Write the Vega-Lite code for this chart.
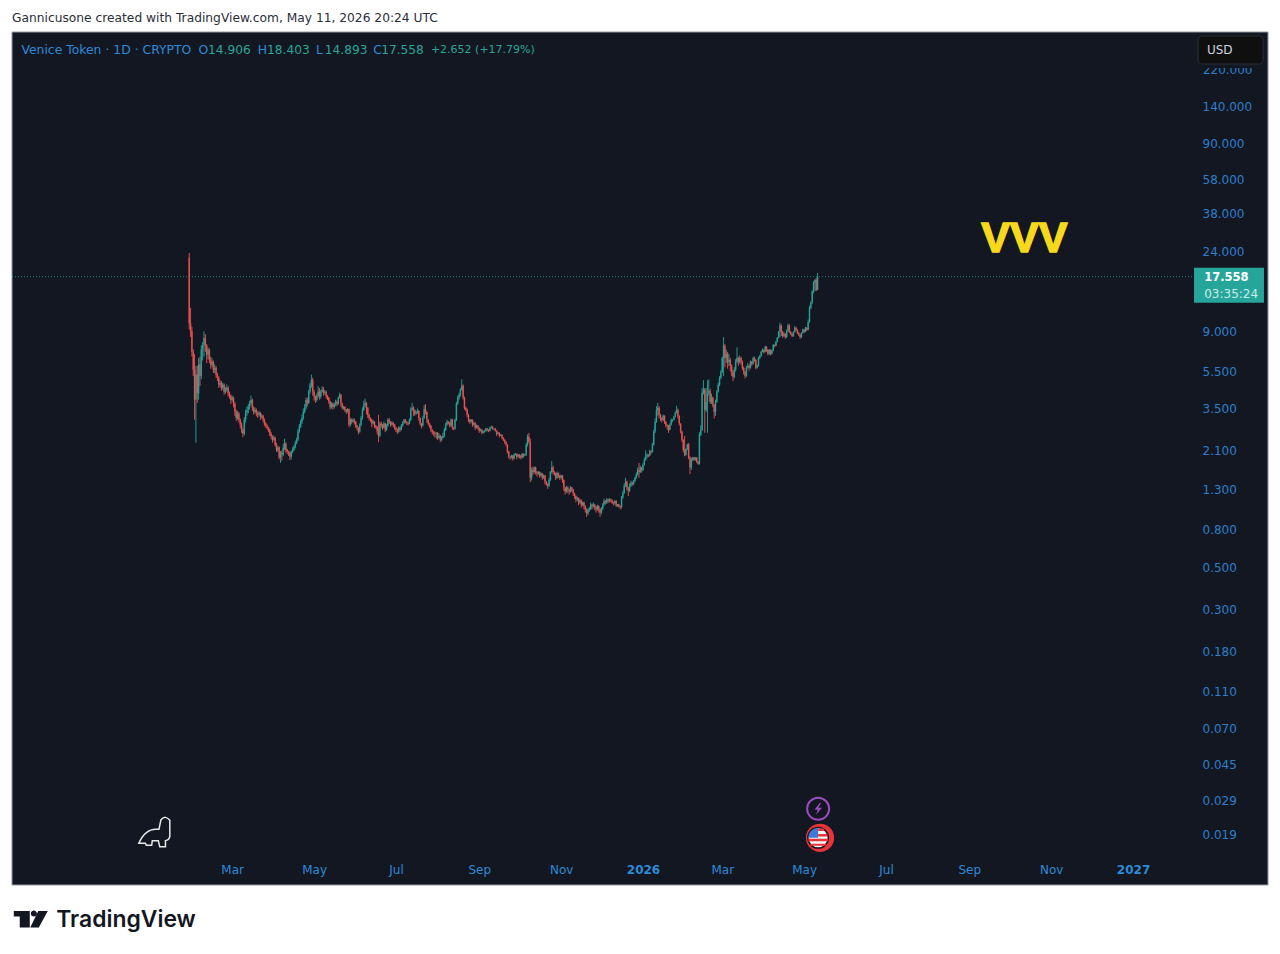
{
"$schema":"https://vega.github.io/schema/vega-lite/v6.json",
"width":1256,"height":853,
"autosize":{"type":"none"},
"padding":{"left":12,"top":32,"right":12,"bottom":69},
"background":"#ffffff",
"view":{"stroke":null},
"config":{"font":"DejaVu Sans"},
"title":{"text":"Gannicusone created with TradingView.com, May 11, 2026 20:24 UTC","anchor":"start","frame":"group","fontSize":12.25,"fontWeight":"normal","color":"#2a2e39","offset":7},
"resolve":{"axis":{"x":"independent","y":"independent"}},
"layer":[
{"data":{"values":[{}]},
"mark":{"type":"rect","color":"#131722","stroke":"#9598a1","strokeWidth":1},
"encoding":{"x":{"datum":{"year":2024,"month":9,"date":18,"utc":true},"type":"temporal","axis":null},"x2":{"datum":{"year":2027,"month":4,"date":11,"hours":12,"utc":true}},"y":{"datum":0.01029,"type":"quantitative","axis":null},"y2":{"datum":350.4}}},
{"data":{"values":[
{"d":"2025-01-28","o":22.2,"h":23.5,"l":9.2,"c":9.9},
{"d":"2025-01-29","o":9.9,"h":12,"l":8.4,"c":9},
{"d":"2025-01-30","o":9,"h":9.5,"l":6.6,"c":7},
{"d":"2025-01-31","o":7,"h":7.2,"l":5.2,"c":5.6},
{"d":"2025-02-01","o":5.6,"h":6.8,"l":3.05,"c":3.9},
{"d":"2025-02-02","o":3.9,"h":5.9,"l":2.3,"c":5.3},
{"d":"2025-02-03","o":5.3,"h":5.9,"l":3.75,"c":4.2},
{"d":"2025-02-04","o":4.2,"h":6.5,"l":3.9,"c":6},
{"d":"2025-02-05","o":6,"h":6.6,"l":4.6,"c":5.2},
{"d":"2025-02-06","o":5.2,"h":7.6,"l":5,"c":7.2},
{"d":"2025-02-07","o":7.2,"h":7.9,"l":6.3,"c":7.6},
{"d":"2025-02-08","o":7.6,"h":9,"l":6.6,"c":8.3},
{"d":"2025-02-09","o":8.3,"h":8.7,"l":7,"c":7.6},
{"d":"2025-02-10","o":7.6,"h":7.7,"l":6.1,"c":6.75},
{"d":"2025-02-11","o":6.75,"h":7.4,"l":6.4,"c":7.18},
{"d":"2025-02-12","o":7.18,"h":7.3,"l":6.1,"c":6.35},
{"d":"2025-02-13","o":6.35,"h":6.6,"l":5.7,"c":5.97},
{"d":"2025-02-14","o":5.97,"h":6.5,"l":5.8,"c":6.2},
{"d":"2025-02-15","o":6.2,"h":6.3,"l":5.4,"c":5.62},
{"d":"2025-02-16","o":5.62,"h":6,"l":5.4,"c":5.76},
{"d":"2025-02-17","o":5.76,"h":5.9,"l":5.1,"c":5.29},
{"d":"2025-02-18","o":5.29,"h":5.4,"l":4.9,"c":5.1},
{"d":"2025-02-19","o":5.1,"h":5.2,"l":4.5,"c":4.68},
{"d":"2025-02-20","o":4.68,"h":4.95,"l":4.55,"c":4.8},
{"d":"2025-02-21","o":4.8,"h":4.9,"l":4.35,"c":4.5},
{"d":"2025-02-22","o":4.5,"h":4.8,"l":4.4,"c":4.68},
{"d":"2025-02-23","o":4.68,"h":4.75,"l":4.15,"c":4.3},
{"d":"2025-02-24","o":4.3,"h":4.55,"l":4.2,"c":4.4},
{"d":"2025-02-25","o":4.4,"h":4.7,"l":4.3,"c":4.5},
{"d":"2025-02-26","o":4.5,"h":4.6,"l":4.05,"c":4.2},
{"d":"2025-02-27","o":4.2,"h":4.3,"l":3.95,"c":4.09},
{"d":"2025-02-28","o":4.09,"h":4.15,"l":3.7,"c":3.89},
{"d":"2025-03-01","o":3.89,"h":4.1,"l":3.8,"c":3.99},
{"d":"2025-03-02","o":3.99,"h":4.05,"l":3.55,"c":3.71},
{"d":"2025-03-03","o":3.71,"h":3.8,"l":3.2,"c":3.36},
{"d":"2025-03-04","o":3.36,"h":3.45,"l":3,"c":3.12},
{"d":"2025-03-05","o":3.12,"h":3.4,"l":3.05,"c":3.28},
{"d":"2025-03-06","o":3.28,"h":3.35,"l":2.95,"c":3.05},
{"d":"2025-03-07","o":3.05,"h":3.1,"l":2.75,"c":2.87},
{"d":"2025-03-08","o":2.87,"h":2.95,"l":2.6,"c":2.7},
{"d":"2025-03-09","o":2.7,"h":2.75,"l":2.46,"c":2.57},
{"d":"2025-03-10","o":2.57,"h":3.15,"l":2.52,"c":3.05},
{"d":"2025-03-11","o":3.05,"h":3.45,"l":2.95,"c":3.32},
{"d":"2025-03-12","o":3.32,"h":3.6,"l":3.2,"c":3.44},
{"d":"2025-03-13","o":3.44,"h":3.7,"l":3.3,"c":3.57},
{"d":"2025-03-14","o":3.57,"h":3.85,"l":3.45,"c":3.75},
{"d":"2025-03-15","o":3.75,"h":4.1,"l":3.65,"c":3.89},
{"d":"2025-03-16","o":3.89,"h":3.95,"l":3.4,"c":3.53},
{"d":"2025-03-17","o":3.53,"h":3.6,"l":3.25,"c":3.36},
{"d":"2025-03-18","o":3.36,"h":3.55,"l":3.3,"c":3.44},
{"d":"2025-03-19","o":3.44,"h":3.5,"l":3.18,"c":3.28},
{"d":"2025-03-20","o":3.28,"h":3.38,"l":3.12,"c":3.24},
{"d":"2025-03-21","o":3.24,"h":3.4,"l":3.18,"c":3.32},
{"d":"2025-03-22","o":3.32,"h":3.36,"l":3.05,"c":3.16},
{"d":"2025-03-23","o":3.16,"h":3.28,"l":3.1,"c":3.2},
{"d":"2025-03-24","o":3.2,"h":3.24,"l":2.96,"c":3.05},
{"d":"2025-03-25","o":3.05,"h":3.1,"l":2.83,"c":2.91},
{"d":"2025-03-26","o":2.91,"h":2.96,"l":2.76,"c":2.84},
{"d":"2025-03-27","o":2.84,"h":2.88,"l":2.7,"c":2.77},
{"d":"2025-03-28","o":2.77,"h":2.8,"l":2.62,"c":2.7},
{"d":"2025-03-29","o":2.7,"h":2.74,"l":2.5,"c":2.57},
{"d":"2025-03-30","o":2.57,"h":2.62,"l":2.4,"c":2.48},
{"d":"2025-03-31","o":2.48,"h":2.52,"l":2.3,"c":2.39},
{"d":"2025-04-01","o":2.39,"h":2.52,"l":2.36,"c":2.45},
{"d":"2025-04-02","o":2.45,"h":2.48,"l":2.2,"c":2.25},
{"d":"2025-04-03","o":2.25,"h":2.3,"l":2.06,"c":2.11},
{"d":"2025-04-04","o":2.11,"h":2.22,"l":2.05,"c":2.17},
{"d":"2025-04-05","o":2.17,"h":2.2,"l":1.88,"c":1.92},
{"d":"2025-04-06","o":1.92,"h":2.08,"l":1.8,"c":2.04},
{"d":"2025-04-07","o":2.04,"h":2.1,"l":1.85,"c":1.99},
{"d":"2025-04-08","o":1.99,"h":2.28,"l":1.95,"c":2.17},
{"d":"2025-04-09","o":2.17,"h":2.42,"l":2.1,"c":2.28},
{"d":"2025-04-10","o":2.28,"h":2.32,"l":2.04,"c":2.11},
{"d":"2025-04-11","o":2.11,"h":2.14,"l":2,"c":2.06},
{"d":"2025-04-12","o":2.06,"h":2.09,"l":1.96,"c":2.04},
{"d":"2025-04-13","o":2.04,"h":2.07,"l":1.86,"c":1.94},
{"d":"2025-04-14","o":1.94,"h":2.1,"l":1.88,"c":2.06},
{"d":"2025-04-15","o":2.06,"h":2.18,"l":2.02,"c":2.11},
{"d":"2025-04-16","o":2.11,"h":2.24,"l":2.08,"c":2.19},
{"d":"2025-04-17","o":2.19,"h":2.36,"l":2.15,"c":2.3},
{"d":"2025-04-18","o":2.3,"h":2.45,"l":2.26,"c":2.39},
{"d":"2025-04-19","o":2.39,"h":2.72,"l":2.35,"c":2.64},
{"d":"2025-04-20","o":2.64,"h":2.9,"l":2.6,"c":2.8},
{"d":"2025-04-21","o":2.8,"h":3.05,"l":2.76,"c":2.98},
{"d":"2025-04-22","o":2.98,"h":3.25,"l":2.9,"c":3.12},
{"d":"2025-04-23","o":3.12,"h":3.5,"l":3.05,"c":3.36},
{"d":"2025-04-24","o":3.36,"h":3.7,"l":3.3,"c":3.53},
{"d":"2025-04-25","o":3.53,"h":4,"l":3.45,"c":3.89},
{"d":"2025-04-26","o":3.89,"h":4,"l":3.6,"c":3.75},
{"d":"2025-04-27","o":3.75,"h":4.4,"l":3.7,"c":4.3},
{"d":"2025-04-28","o":4.3,"h":4.8,"l":4.2,"c":4.68},
{"d":"2025-04-29","o":4.68,"h":5.3,"l":4.5,"c":4.97},
{"d":"2025-04-30","o":4.97,"h":5.1,"l":4.1,"c":4.3},
{"d":"2025-05-01","o":4.3,"h":4.4,"l":3.85,"c":4.04},
{"d":"2025-05-02","o":4.04,"h":4.1,"l":3.75,"c":3.89},
{"d":"2025-05-03","o":3.89,"h":4.2,"l":3.8,"c":4.09},
{"d":"2025-05-04","o":4.09,"h":4.6,"l":4,"c":4.3},
{"d":"2025-05-05","o":4.3,"h":4.5,"l":3.9,"c":4.04},
{"d":"2025-05-06","o":4.04,"h":4.4,"l":3.95,"c":4.3},
{"d":"2025-05-07","o":4.3,"h":4.6,"l":4.25,"c":4.4},
{"d":"2025-05-08","o":4.4,"h":4.55,"l":4.1,"c":4.25},
{"d":"2025-05-09","o":4.25,"h":4.4,"l":4.15,"c":4.3},
{"d":"2025-05-10","o":4.3,"h":4.35,"l":3.95,"c":4.09},
{"d":"2025-05-11","o":4.09,"h":4.12,"l":3.88,"c":3.99},
{"d":"2025-05-12","o":3.99,"h":4.02,"l":3.7,"c":3.8},
{"d":"2025-05-13","o":3.8,"h":3.85,"l":3.46,"c":3.57},
{"d":"2025-05-14","o":3.57,"h":3.78,"l":3.5,"c":3.71},
{"d":"2025-05-15","o":3.71,"h":3.76,"l":3.45,"c":3.57},
{"d":"2025-05-16","o":3.57,"h":3.75,"l":3.5,"c":3.66},
{"d":"2025-05-17","o":3.66,"h":3.9,"l":3.6,"c":3.8},
{"d":"2025-05-18","o":3.8,"h":3.86,"l":3.6,"c":3.71},
{"d":"2025-05-19","o":3.71,"h":4.05,"l":3.66,"c":3.99},
{"d":"2025-05-20","o":3.99,"h":4.25,"l":3.95,"c":4.14},
{"d":"2025-05-21","o":4.14,"h":4.18,"l":3.58,"c":3.71},
{"d":"2025-05-22","o":3.71,"h":3.75,"l":3.45,"c":3.53},
{"d":"2025-05-23","o":3.53,"h":3.62,"l":3.45,"c":3.57},
{"d":"2025-05-24","o":3.57,"h":3.6,"l":3.35,"c":3.44},
{"d":"2025-05-25","o":3.44,"h":3.48,"l":3.27,"c":3.36},
{"d":"2025-05-26","o":3.36,"h":3.52,"l":3.32,"c":3.48},
{"d":"2025-05-27","o":3.48,"h":3.5,"l":2.78,"c":2.87},
{"d":"2025-05-28","o":2.87,"h":3.12,"l":2.82,"c":3.05},
{"d":"2025-05-29","o":3.05,"h":3.1,"l":2.9,"c":2.98},
{"d":"2025-05-30","o":2.98,"h":3.1,"l":2.94,"c":3.05},
{"d":"2025-05-31","o":3.05,"h":3.1,"l":2.88,"c":2.98},
{"d":"2025-06-01","o":2.98,"h":3,"l":2.76,"c":2.84},
{"d":"2025-06-02","o":2.84,"h":2.86,"l":2.68,"c":2.77},
{"d":"2025-06-03","o":2.77,"h":2.78,"l":2.55,"c":2.64},
{"d":"2025-06-04","o":2.64,"h":2.92,"l":2.6,"c":2.87},
{"d":"2025-06-05","o":2.87,"h":3.2,"l":2.82,"c":3.12},
{"d":"2025-06-06","o":3.12,"h":3.55,"l":3.05,"c":3.44},
{"d":"2025-06-07","o":3.44,"h":3.85,"l":3.4,"c":3.62},
{"d":"2025-06-08","o":3.62,"h":3.95,"l":3.55,"c":3.75},
{"d":"2025-06-09","o":3.75,"h":3.8,"l":3.25,"c":3.53},
{"d":"2025-06-10","o":3.53,"h":3.56,"l":3.12,"c":3.24},
{"d":"2025-06-11","o":3.24,"h":3.28,"l":3.02,"c":3.12},
{"d":"2025-06-12","o":3.12,"h":3.14,"l":2.96,"c":3.05},
{"d":"2025-06-13","o":3.05,"h":3.08,"l":2.78,"c":2.91},
{"d":"2025-06-14","o":2.91,"h":3.05,"l":2.88,"c":2.98},
{"d":"2025-06-15","o":2.98,"h":3,"l":2.76,"c":2.84},
{"d":"2025-06-16","o":2.84,"h":2.86,"l":2.72,"c":2.8},
{"d":"2025-06-17","o":2.8,"h":2.82,"l":2.55,"c":2.64},
{"d":"2025-06-18","o":2.64,"h":3.24,"l":2.32,"c":2.51},
{"d":"2025-06-19","o":2.51,"h":2.98,"l":2.46,"c":2.91},
{"d":"2025-06-20","o":2.91,"h":2.98,"l":2.76,"c":2.84},
{"d":"2025-06-21","o":2.84,"h":2.9,"l":2.7,"c":2.77},
{"d":"2025-06-22","o":2.77,"h":2.98,"l":2.74,"c":2.91},
{"d":"2025-06-23","o":2.91,"h":2.94,"l":2.62,"c":2.7},
{"d":"2025-06-24","o":2.7,"h":2.9,"l":2.66,"c":2.84},
{"d":"2025-06-25","o":2.84,"h":3.12,"l":2.8,"c":3.05},
{"d":"2025-06-26","o":3.05,"h":3.1,"l":2.9,"c":2.98},
{"d":"2025-06-27","o":2.98,"h":3,"l":2.8,"c":2.87},
{"d":"2025-06-28","o":2.87,"h":3,"l":2.84,"c":2.94},
{"d":"2025-06-29","o":2.94,"h":2.96,"l":2.78,"c":2.87},
{"d":"2025-06-30","o":2.87,"h":2.9,"l":2.7,"c":2.77},
{"d":"2025-07-01","o":2.77,"h":2.8,"l":2.62,"c":2.7},
{"d":"2025-07-02","o":2.7,"h":2.74,"l":2.56,"c":2.64},
{"d":"2025-07-03","o":2.64,"h":2.82,"l":2.6,"c":2.77},
{"d":"2025-07-04","o":2.77,"h":2.8,"l":2.62,"c":2.7},
{"d":"2025-07-05","o":2.7,"h":2.9,"l":2.68,"c":2.84},
{"d":"2025-07-06","o":2.84,"h":3,"l":2.8,"c":2.94},
{"d":"2025-07-07","o":2.94,"h":3.08,"l":2.9,"c":3.05},
{"d":"2025-07-08","o":3.05,"h":3.08,"l":2.92,"c":2.98},
{"d":"2025-07-09","o":2.98,"h":3,"l":2.86,"c":2.94},
{"d":"2025-07-10","o":2.94,"h":2.96,"l":2.84,"c":2.91},
{"d":"2025-07-11","o":2.91,"h":3.1,"l":2.88,"c":3.05},
{"d":"2025-07-12","o":3.05,"h":3.55,"l":3,"c":3.44},
{"d":"2025-07-13","o":3.44,"h":3.75,"l":3.4,"c":3.53},
{"d":"2025-07-14","o":3.53,"h":3.6,"l":3.2,"c":3.44},
{"d":"2025-07-15","o":3.44,"h":3.46,"l":3.2,"c":3.28},
{"d":"2025-07-16","o":3.28,"h":3.4,"l":3.24,"c":3.32},
{"d":"2025-07-17","o":3.32,"h":3.5,"l":3.28,"c":3.4},
{"d":"2025-07-18","o":3.4,"h":3.42,"l":3.02,"c":3.12},
{"d":"2025-07-19","o":3.12,"h":3.14,"l":2.84,"c":2.91},
{"d":"2025-07-20","o":2.91,"h":2.93,"l":2.74,"c":2.84},
{"d":"2025-07-21","o":2.84,"h":3.2,"l":2.8,"c":3.12},
{"d":"2025-07-22","o":3.12,"h":3.65,"l":3.08,"c":3.48},
{"d":"2025-07-23","o":3.48,"h":3.7,"l":3.25,"c":3.36},
{"d":"2025-07-24","o":3.36,"h":3.38,"l":2.94,"c":3.05},
{"d":"2025-07-25","o":3.05,"h":3.07,"l":2.84,"c":2.91},
{"d":"2025-07-26","o":2.91,"h":2.94,"l":2.76,"c":2.84},
{"d":"2025-07-27","o":2.84,"h":2.86,"l":2.62,"c":2.7},
{"d":"2025-07-28","o":2.7,"h":2.72,"l":2.55,"c":2.64},
{"d":"2025-07-29","o":2.64,"h":2.66,"l":2.5,"c":2.6},
{"d":"2025-07-30","o":2.6,"h":2.64,"l":2.46,"c":2.57},
{"d":"2025-07-31","o":2.57,"h":2.62,"l":2.42,"c":2.6},
{"d":"2025-08-01","o":2.6,"h":2.62,"l":2.38,"c":2.45},
{"d":"2025-08-02","o":2.45,"h":2.58,"l":2.42,"c":2.51},
{"d":"2025-08-03","o":2.51,"h":2.54,"l":2.32,"c":2.39},
{"d":"2025-08-04","o":2.39,"h":2.5,"l":2.34,"c":2.45},
{"d":"2025-08-05","o":2.45,"h":2.6,"l":2.42,"c":2.51},
{"d":"2025-08-06","o":2.51,"h":2.76,"l":2.46,"c":2.7},
{"d":"2025-08-07","o":2.7,"h":2.94,"l":2.66,"c":2.87},
{"d":"2025-08-08","o":2.87,"h":3.05,"l":2.84,"c":2.98},
{"d":"2025-08-09","o":2.98,"h":3,"l":2.88,"c":2.94},
{"d":"2025-08-10","o":2.94,"h":2.96,"l":2.78,"c":2.84},
{"d":"2025-08-11","o":2.84,"h":3.1,"l":2.8,"c":3.05},
{"d":"2025-08-12","o":3.05,"h":3.08,"l":2.7,"c":2.77},
{"d":"2025-08-13","o":2.77,"h":2.8,"l":2.68,"c":2.74},
{"d":"2025-08-14","o":2.74,"h":3.1,"l":2.7,"c":3.05},
{"d":"2025-08-15","o":3.05,"h":3.8,"l":3,"c":3.71},
{"d":"2025-08-16","o":3.71,"h":4.1,"l":3.66,"c":3.99},
{"d":"2025-08-17","o":3.99,"h":4.25,"l":3.9,"c":4.14},
{"d":"2025-08-18","o":4.14,"h":4.5,"l":4.05,"c":4.4},
{"d":"2025-08-19","o":4.4,"h":5,"l":4.35,"c":4.63},
{"d":"2025-08-20","o":4.63,"h":4.7,"l":3.9,"c":3.99},
{"d":"2025-08-21","o":3.99,"h":4.05,"l":3.45,"c":3.53},
{"d":"2025-08-22","o":3.53,"h":3.58,"l":3.38,"c":3.44},
{"d":"2025-08-23","o":3.44,"h":3.5,"l":3.15,"c":3.24},
{"d":"2025-08-24","o":3.24,"h":3.28,"l":2.96,"c":3.05},
{"d":"2025-08-25","o":3.05,"h":3.08,"l":2.9,"c":2.98},
{"d":"2025-08-26","o":2.98,"h":3.08,"l":2.94,"c":3.05},
{"d":"2025-08-27","o":3.05,"h":3.06,"l":2.8,"c":2.87},
{"d":"2025-08-28","o":2.87,"h":2.98,"l":2.84,"c":2.94},
{"d":"2025-08-29","o":2.94,"h":2.95,"l":2.7,"c":2.77},
{"d":"2025-08-30","o":2.77,"h":2.88,"l":2.74,"c":2.84},
{"d":"2025-08-31","o":2.84,"h":2.86,"l":2.7,"c":2.77},
{"d":"2025-09-01","o":2.77,"h":2.78,"l":2.6,"c":2.67},
{"d":"2025-09-02","o":2.67,"h":2.74,"l":2.64,"c":2.7},
{"d":"2025-09-03","o":2.7,"h":2.72,"l":2.55,"c":2.6},
{"d":"2025-09-04","o":2.6,"h":2.67,"l":2.58,"c":2.64},
{"d":"2025-09-05","o":2.64,"h":2.7,"l":2.6,"c":2.67},
{"d":"2025-09-06","o":2.67,"h":2.76,"l":2.64,"c":2.74},
{"d":"2025-09-07","o":2.74,"h":2.76,"l":2.65,"c":2.7},
{"d":"2025-09-08","o":2.7,"h":2.72,"l":2.62,"c":2.67},
{"d":"2025-09-09","o":2.67,"h":2.8,"l":2.64,"c":2.77},
{"d":"2025-09-10","o":2.77,"h":2.84,"l":2.74,"c":2.8},
{"d":"2025-09-11","o":2.8,"h":2.82,"l":2.7,"c":2.74},
{"d":"2025-09-12","o":2.74,"h":2.76,"l":2.68,"c":2.74},
{"d":"2025-09-13","o":2.74,"h":2.75,"l":2.64,"c":2.67},
{"d":"2025-09-14","o":2.67,"h":2.68,"l":2.5,"c":2.57},
{"d":"2025-09-15","o":2.57,"h":2.63,"l":2.55,"c":2.6},
{"d":"2025-09-16","o":2.6,"h":2.62,"l":2.46,"c":2.51},
{"d":"2025-09-17","o":2.51,"h":2.56,"l":2.5,"c":2.54},
{"d":"2025-09-18","o":2.54,"h":2.55,"l":2.4,"c":2.45},
{"d":"2025-09-19","o":2.45,"h":2.46,"l":2.35,"c":2.39},
{"d":"2025-09-20","o":2.39,"h":2.4,"l":2.27,"c":2.33},
{"d":"2025-09-21","o":2.33,"h":2.34,"l":2.2,"c":2.25},
{"d":"2025-09-22","o":2.25,"h":2.26,"l":2.02,"c":2.06},
{"d":"2025-09-23","o":2.06,"h":2.08,"l":1.9,"c":1.94},
{"d":"2025-09-24","o":1.94,"h":1.95,"l":1.87,"c":1.92},
{"d":"2025-09-25","o":1.92,"h":1.99,"l":1.9,"c":1.97},
{"d":"2025-09-26","o":1.97,"h":1.98,"l":1.85,"c":1.9},
{"d":"2025-09-27","o":1.9,"h":2.02,"l":1.88,"c":1.99},
{"d":"2025-09-28","o":1.99,"h":2.03,"l":1.97,"c":2.01},
{"d":"2025-09-29","o":2.01,"h":2.02,"l":1.88,"c":1.94},
{"d":"2025-09-30","o":1.94,"h":2.01,"l":1.92,"c":1.99},
{"d":"2025-10-01","o":1.99,"h":2,"l":1.9,"c":1.97},
{"d":"2025-10-02","o":1.97,"h":1.98,"l":1.88,"c":1.92},
{"d":"2025-10-03","o":1.92,"h":2.03,"l":1.9,"c":2.01},
{"d":"2025-10-04","o":2.01,"h":2.02,"l":1.92,"c":1.97},
{"d":"2025-10-05","o":1.97,"h":2.01,"l":1.95,"c":1.99},
{"d":"2025-10-06","o":1.99,"h":2.3,"l":1.96,"c":2.25},
{"d":"2025-10-07","o":2.25,"h":2.55,"l":2.2,"c":2.48},
{"d":"2025-10-08","o":2.48,"h":2.6,"l":2.3,"c":2.33},
{"d":"2025-10-09","o":2.33,"h":2.42,"l":1.42,"c":1.5},
{"d":"2025-10-10","o":1.5,"h":1.7,"l":1.45,"c":1.65},
{"d":"2025-10-11","o":1.65,"h":1.72,"l":1.55,"c":1.61},
{"d":"2025-10-12","o":1.61,"h":1.72,"l":1.58,"c":1.7},
{"d":"2025-10-13","o":1.7,"h":1.72,"l":1.56,"c":1.61},
{"d":"2025-10-14","o":1.61,"h":1.63,"l":1.52,"c":1.58},
{"d":"2025-10-15","o":1.58,"h":1.63,"l":1.55,"c":1.61},
{"d":"2025-10-16","o":1.61,"h":1.62,"l":1.5,"c":1.54},
{"d":"2025-10-17","o":1.54,"h":1.6,"l":1.52,"c":1.58},
{"d":"2025-10-18","o":1.58,"h":1.59,"l":1.46,"c":1.5},
{"d":"2025-10-19","o":1.5,"h":1.56,"l":1.48,"c":1.54},
{"d":"2025-10-20","o":1.54,"h":1.55,"l":1.38,"c":1.43},
{"d":"2025-10-21","o":1.43,"h":1.44,"l":1.36,"c":1.39},
{"d":"2025-10-22","o":1.39,"h":1.4,"l":1.31,"c":1.36},
{"d":"2025-10-23","o":1.36,"h":1.5,"l":1.34,"c":1.46},
{"d":"2025-10-24","o":1.46,"h":1.63,"l":1.44,"c":1.61},
{"d":"2025-10-25","o":1.61,"h":1.84,"l":1.58,"c":1.7},
{"d":"2025-10-26","o":1.7,"h":1.74,"l":1.56,"c":1.61},
{"d":"2025-10-27","o":1.61,"h":1.63,"l":1.54,"c":1.58},
{"d":"2025-10-28","o":1.58,"h":1.6,"l":1.46,"c":1.5},
{"d":"2025-10-29","o":1.5,"h":1.62,"l":1.48,"c":1.59},
{"d":"2025-10-30","o":1.59,"h":1.6,"l":1.5,"c":1.54},
{"d":"2025-10-31","o":1.54,"h":1.55,"l":1.46,"c":1.5},
{"d":"2025-11-01","o":1.5,"h":1.56,"l":1.48,"c":1.54},
{"d":"2025-11-02","o":1.54,"h":1.55,"l":1.41,"c":1.46},
{"d":"2025-11-03","o":1.46,"h":1.47,"l":1.28,"c":1.33},
{"d":"2025-11-04","o":1.33,"h":1.34,"l":1.22,"c":1.27},
{"d":"2025-11-05","o":1.27,"h":1.36,"l":1.25,"c":1.33},
{"d":"2025-11-06","o":1.33,"h":1.35,"l":1.24,"c":1.3},
{"d":"2025-11-07","o":1.3,"h":1.31,"l":1.22,"c":1.27},
{"d":"2025-11-08","o":1.27,"h":1.36,"l":1.25,"c":1.33},
{"d":"2025-11-09","o":1.33,"h":1.34,"l":1.26,"c":1.3},
{"d":"2025-11-10","o":1.3,"h":1.31,"l":1.2,"c":1.24},
{"d":"2025-11-11","o":1.24,"h":1.25,"l":1.16,"c":1.2},
{"d":"2025-11-12","o":1.2,"h":1.21,"l":1.11,"c":1.15},
{"d":"2025-11-13","o":1.15,"h":1.19,"l":1.13,"c":1.17},
{"d":"2025-11-14","o":1.17,"h":1.18,"l":1.07,"c":1.11},
{"d":"2025-11-15","o":1.11,"h":1.16,"l":1.09,"c":1.14},
{"d":"2025-11-16","o":1.14,"h":1.15,"l":1.04,"c":1.08},
{"d":"2025-11-17","o":1.08,"h":1.12,"l":1.06,"c":1.11},
{"d":"2025-11-18","o":1.11,"h":1.12,"l":1.02,"c":1.06},
{"d":"2025-11-19","o":1.06,"h":1.07,"l":0.98,"c":1.02},
{"d":"2025-11-20","o":1.02,"h":1.03,"l":0.93,"c":0.97},
{"d":"2025-11-21","o":0.97,"h":1.03,"l":0.95,"c":1.01},
{"d":"2025-11-22","o":1.01,"h":1.05,"l":0.99,"c":1.03},
{"d":"2025-11-23","o":1.03,"h":1.11,"l":1.01,"c":1.08},
{"d":"2025-11-24","o":1.08,"h":1.09,"l":1.02,"c":1.06},
{"d":"2025-11-25","o":1.06,"h":1.11,"l":1.04,"c":1.08},
{"d":"2025-11-26","o":1.08,"h":1.09,"l":1.01,"c":1.05},
{"d":"2025-11-27","o":1.05,"h":1.06,"l":0.98,"c":1.02},
{"d":"2025-11-28","o":1.02,"h":1.08,"l":1,"c":1.06},
{"d":"2025-11-29","o":1.06,"h":1.07,"l":0.98,"c":1.02},
{"d":"2025-11-30","o":1.02,"h":1.03,"l":0.93,"c":0.98},
{"d":"2025-12-01","o":0.98,"h":1.05,"l":0.96,"c":1.03},
{"d":"2025-12-02","o":1.03,"h":1.1,"l":1.01,"c":1.08},
{"d":"2025-12-03","o":1.08,"h":1.16,"l":1.06,"c":1.13},
{"d":"2025-12-04","o":1.13,"h":1.14,"l":1.08,"c":1.11},
{"d":"2025-12-05","o":1.11,"h":1.17,"l":1.09,"c":1.15},
{"d":"2025-12-06","o":1.15,"h":1.16,"l":1.1,"c":1.13},
{"d":"2025-12-07","o":1.13,"h":1.17,"l":1.11,"c":1.15},
{"d":"2025-12-08","o":1.15,"h":1.16,"l":1.11,"c":1.14},
{"d":"2025-12-09","o":1.14,"h":1.15,"l":1.09,"c":1.11},
{"d":"2025-12-10","o":1.11,"h":1.12,"l":1.07,"c":1.1},
{"d":"2025-12-11","o":1.1,"h":1.14,"l":1.08,"c":1.13},
{"d":"2025-12-12","o":1.13,"h":1.14,"l":1.05,"c":1.07},
{"d":"2025-12-13","o":1.07,"h":1.09,"l":1.05,"c":1.08},
{"d":"2025-12-14","o":1.08,"h":1.09,"l":1.04,"c":1.06},
{"d":"2025-12-15","o":1.06,"h":1.07,"l":1.02,"c":1.05},
{"d":"2025-12-16","o":1.05,"h":1.2,"l":1.03,"c":1.18},
{"d":"2025-12-17","o":1.18,"h":1.28,"l":1.16,"c":1.25},
{"d":"2025-12-18","o":1.25,"h":1.4,"l":1.23,"c":1.36},
{"d":"2025-12-19","o":1.36,"h":1.5,"l":1.34,"c":1.43},
{"d":"2025-12-20","o":1.43,"h":1.45,"l":1.29,"c":1.33},
{"d":"2025-12-21","o":1.33,"h":1.34,"l":1.2,"c":1.28},
{"d":"2025-12-22","o":1.28,"h":1.4,"l":1.26,"c":1.36},
{"d":"2025-12-23","o":1.36,"h":1.45,"l":1.34,"c":1.41},
{"d":"2025-12-24","o":1.41,"h":1.43,"l":1.36,"c":1.39},
{"d":"2025-12-25","o":1.39,"h":1.46,"l":1.37,"c":1.44},
{"d":"2025-12-26","o":1.44,"h":1.52,"l":1.42,"c":1.5},
{"d":"2025-12-27","o":1.5,"h":1.6,"l":1.48,"c":1.56},
{"d":"2025-12-28","o":1.56,"h":1.7,"l":1.54,"c":1.65},
{"d":"2025-12-29","o":1.65,"h":1.8,"l":1.5,"c":1.61},
{"d":"2025-12-30","o":1.61,"h":1.74,"l":1.59,"c":1.7},
{"d":"2025-12-31","o":1.7,"h":1.71,"l":1.6,"c":1.65},
{"d":"2026-01-01","o":1.65,"h":1.8,"l":1.63,"c":1.76},
{"d":"2026-01-02","o":1.76,"h":1.92,"l":1.74,"c":1.87},
{"d":"2026-01-03","o":1.87,"h":2.1,"l":1.85,"c":1.94},
{"d":"2026-01-04","o":1.94,"h":2.02,"l":1.9,"c":1.99},
{"d":"2026-01-05","o":1.99,"h":2,"l":1.93,"c":1.97},
{"d":"2026-01-06","o":1.97,"h":2.12,"l":1.95,"c":2.08},
{"d":"2026-01-07","o":2.08,"h":2.1,"l":2,"c":2.06},
{"d":"2026-01-08","o":2.06,"h":2.3,"l":2.04,"c":2.25},
{"d":"2026-01-09","o":2.25,"h":2.7,"l":2.22,"c":2.64},
{"d":"2026-01-10","o":2.64,"h":3.1,"l":2.6,"c":2.98},
{"d":"2026-01-11","o":2.98,"h":3.6,"l":2.94,"c":3.44},
{"d":"2026-01-12","o":3.44,"h":3.75,"l":3.2,"c":3.53},
{"d":"2026-01-13","o":3.53,"h":3.6,"l":3.1,"c":3.24},
{"d":"2026-01-14","o":3.24,"h":3.28,"l":3,"c":3.12},
{"d":"2026-01-15","o":3.12,"h":3.14,"l":2.95,"c":3.05},
{"d":"2026-01-16","o":3.05,"h":3.25,"l":3,"c":3.2},
{"d":"2026-01-17","o":3.2,"h":3.22,"l":2.9,"c":2.98},
{"d":"2026-01-18","o":2.98,"h":3,"l":2.78,"c":2.87},
{"d":"2026-01-19","o":2.87,"h":2.88,"l":2.7,"c":2.84},
{"d":"2026-01-20","o":2.84,"h":2.86,"l":2.6,"c":2.7},
{"d":"2026-01-21","o":2.7,"h":2.92,"l":2.68,"c":2.87},
{"d":"2026-01-22","o":2.87,"h":3.1,"l":2.84,"c":3.05},
{"d":"2026-01-23","o":3.05,"h":3.08,"l":2.96,"c":3.05},
{"d":"2026-01-24","o":3.05,"h":3.2,"l":3.02,"c":3.16},
{"d":"2026-01-25","o":3.16,"h":3.38,"l":3.14,"c":3.32},
{"d":"2026-01-26","o":3.32,"h":3.62,"l":3.3,"c":3.44},
{"d":"2026-01-27","o":3.44,"h":3.5,"l":3.1,"c":3.2},
{"d":"2026-01-28","o":3.2,"h":3.22,"l":2.84,"c":2.91},
{"d":"2026-01-29","o":2.91,"h":2.92,"l":2.58,"c":2.64},
{"d":"2026-01-30","o":2.64,"h":2.65,"l":2.32,"c":2.39},
{"d":"2026-01-31","o":2.39,"h":2.4,"l":2.05,"c":2.11},
{"d":"2026-02-01","o":2.11,"h":2.5,"l":1.95,"c":1.99},
{"d":"2026-02-02","o":1.99,"h":2.15,"l":1.96,"c":2.13},
{"d":"2026-02-03","o":2.13,"h":2.28,"l":2.1,"c":2.25},
{"d":"2026-02-04","o":2.25,"h":2.3,"l":1.88,"c":1.92},
{"d":"2026-02-05","o":1.92,"h":1.95,"l":1.57,"c":1.7},
{"d":"2026-02-06","o":1.7,"h":1.92,"l":1.65,"c":1.87},
{"d":"2026-02-07","o":1.87,"h":1.93,"l":1.84,"c":1.92},
{"d":"2026-02-08","o":1.92,"h":1.94,"l":1.84,"c":1.87},
{"d":"2026-02-09","o":1.87,"h":1.93,"l":1.85,"c":1.92},
{"d":"2026-02-10","o":1.92,"h":1.93,"l":1.8,"c":1.82},
{"d":"2026-02-11","o":1.82,"h":1.84,"l":1.76,"c":1.78},
{"d":"2026-02-12","o":1.78,"h":2.62,"l":1.76,"c":2.54},
{"d":"2026-02-13","o":2.54,"h":2.85,"l":2.5,"c":2.7},
{"d":"2026-02-14","o":2.7,"h":4.5,"l":2.66,"c":4.25},
{"d":"2026-02-15","o":4.25,"h":4.95,"l":4.15,"c":4.4},
{"d":"2026-02-16","o":4.4,"h":4.5,"l":2.6,"c":3.44},
{"d":"2026-02-17","o":3.44,"h":4.5,"l":3.35,"c":3.8},
{"d":"2026-02-18","o":3.8,"h":4.95,"l":2.6,"c":4.25},
{"d":"2026-02-19","o":4.25,"h":5,"l":4.1,"c":4.35},
{"d":"2026-02-20","o":4.35,"h":4.45,"l":3.7,"c":3.8},
{"d":"2026-02-21","o":3.8,"h":4.2,"l":3.7,"c":3.99},
{"d":"2026-02-22","o":3.99,"h":4.05,"l":3.55,"c":3.66},
{"d":"2026-02-23","o":3.66,"h":3.7,"l":3.1,"c":3.36},
{"d":"2026-02-24","o":3.36,"h":3.9,"l":3.2,"c":3.8},
{"d":"2026-02-25","o":3.8,"h":4.4,"l":3.75,"c":4.3},
{"d":"2026-02-26","o":4.3,"h":4.8,"l":4.25,"c":4.68},
{"d":"2026-02-27","o":4.68,"h":5.2,"l":4.6,"c":5.1},
{"d":"2026-02-28","o":5.1,"h":5.6,"l":5,"c":5.48},
{"d":"2026-03-01","o":5.48,"h":6.6,"l":5.4,"c":6.5},
{"d":"2026-03-02","o":6.5,"h":8.4,"l":5.2,"c":7.54},
{"d":"2026-03-03","o":7.54,"h":7.7,"l":5.8,"c":6.5},
{"d":"2026-03-04","o":6.5,"h":7.2,"l":6.1,"c":6.83},
{"d":"2026-03-05","o":6.83,"h":7,"l":5.7,"c":6.2},
{"d":"2026-03-06","o":6.2,"h":6.8,"l":5.9,"c":6.35},
{"d":"2026-03-07","o":6.35,"h":6.5,"l":5.5,"c":5.9},
{"d":"2026-03-08","o":5.9,"h":6,"l":5.2,"c":5.48},
{"d":"2026-03-09","o":5.48,"h":5.6,"l":4.9,"c":5.16},
{"d":"2026-03-10","o":5.16,"h":5.8,"l":5.05,"c":5.62},
{"d":"2026-03-11","o":5.62,"h":6.4,"l":5.5,"c":6.2},
{"d":"2026-03-12","o":6.2,"h":7.4,"l":6.1,"c":6.5},
{"d":"2026-03-13","o":6.5,"h":6.6,"l":5.9,"c":6.2},
{"d":"2026-03-14","o":6.2,"h":6.7,"l":6.05,"c":6.5},
{"d":"2026-03-15","o":6.5,"h":6.6,"l":6,"c":6.2},
{"d":"2026-03-16","o":6.2,"h":6.3,"l":5.6,"c":5.76},
{"d":"2026-03-17","o":5.76,"h":5.85,"l":5.3,"c":5.48},
{"d":"2026-03-18","o":5.48,"h":5.55,"l":5.05,"c":5.22},
{"d":"2026-03-19","o":5.22,"h":5.9,"l":5.15,"c":5.76},
{"d":"2026-03-20","o":5.76,"h":6.1,"l":5.7,"c":5.9},
{"d":"2026-03-21","o":5.9,"h":6,"l":5.55,"c":5.76},
{"d":"2026-03-22","o":5.76,"h":6.3,"l":5.7,"c":6.2},
{"d":"2026-03-23","o":6.2,"h":6.25,"l":5.9,"c":6.05},
{"d":"2026-03-24","o":6.05,"h":6.6,"l":6,"c":6.5},
{"d":"2026-03-25","o":6.5,"h":6.6,"l":6.2,"c":6.35},
{"d":"2026-03-26","o":6.35,"h":6.4,"l":5.65,"c":5.76},
{"d":"2026-03-27","o":5.76,"h":6,"l":5.7,"c":5.9},
{"d":"2026-03-28","o":5.9,"h":6.6,"l":5.85,"c":6.5},
{"d":"2026-03-29","o":6.5,"h":6.75,"l":6.4,"c":6.67},
{"d":"2026-03-30","o":6.67,"h":7.1,"l":6.6,"c":7},
{"d":"2026-03-31","o":7,"h":7.3,"l":6.95,"c":7.18},
{"d":"2026-04-01","o":7.18,"h":7.2,"l":6.85,"c":7},
{"d":"2026-04-02","o":7,"h":7.55,"l":6.95,"c":7.45},
{"d":"2026-04-03","o":7.45,"h":7.5,"l":7,"c":7.18},
{"d":"2026-04-04","o":7.18,"h":7.22,"l":6.7,"c":6.83},
{"d":"2026-04-05","o":6.83,"h":7.25,"l":6.75,"c":7.18},
{"d":"2026-04-06","o":7.18,"h":7.2,"l":6.7,"c":6.83},
{"d":"2026-04-07","o":6.83,"h":7.2,"l":6.78,"c":7.1},
{"d":"2026-04-08","o":7.1,"h":7.7,"l":7.05,"c":7.63},
{"d":"2026-04-09","o":7.63,"h":7.65,"l":7.4,"c":7.54},
{"d":"2026-04-10","o":7.54,"h":8,"l":7.5,"c":7.9},
{"d":"2026-04-11","o":7.9,"h":8.4,"l":7.85,"c":8.31},
{"d":"2026-04-12","o":8.31,"h":9.05,"l":8.25,"c":8.94},
{"d":"2026-04-13","o":8.94,"h":10,"l":8.4,"c":9.65},
{"d":"2026-04-14","o":9.65,"h":9.8,"l":8.5,"c":8.94},
{"d":"2026-04-15","o":8.94,"h":9.05,"l":8.3,"c":8.5},
{"d":"2026-04-16","o":8.5,"h":8.9,"l":8.4,"c":8.72},
{"d":"2026-04-17","o":8.72,"h":8.8,"l":8.2,"c":8.4},
{"d":"2026-04-18","o":8.4,"h":9.2,"l":8.3,"c":9.05},
{"d":"2026-04-19","o":9.05,"h":9.9,"l":8.95,"c":9.65},
{"d":"2026-04-20","o":9.65,"h":9.8,"l":8.8,"c":8.94},
{"d":"2026-04-21","o":8.94,"h":9,"l":8.6,"c":8.72},
{"d":"2026-04-22","o":8.72,"h":8.8,"l":8.4,"c":8.5},
{"d":"2026-04-23","o":8.5,"h":9,"l":8.4,"c":8.94},
{"d":"2026-04-24","o":8.94,"h":9.6,"l":8.85,"c":9.4},
{"d":"2026-04-25","o":9.4,"h":9.5,"l":9,"c":9.17},
{"d":"2026-04-26","o":9.17,"h":9.25,"l":8.7,"c":8.83},
{"d":"2026-04-27","o":8.83,"h":8.9,"l":8.5,"c":8.62},
{"d":"2026-04-28","o":8.62,"h":8.7,"l":8.2,"c":8.4},
{"d":"2026-04-29","o":8.4,"h":8.9,"l":8.3,"c":8.83},
{"d":"2026-04-30","o":8.83,"h":9.3,"l":8.75,"c":9.17},
{"d":"2026-05-01","o":9.17,"h":9.25,"l":8.8,"c":8.94},
{"d":"2026-05-02","o":8.94,"h":9.5,"l":8.9,"c":9.4},
{"d":"2026-05-03","o":9.4,"h":9.45,"l":9.05,"c":9.17},
{"d":"2026-05-04","o":9.17,"h":10.4,"l":9.1,"c":10.1},
{"d":"2026-05-05","o":10.1,"h":12.3,"l":10,"c":12},
{"d":"2026-05-06","o":12,"h":13,"l":11.8,"c":12.8},
{"d":"2026-05-07","o":12.8,"h":14.9,"l":12.6,"c":14.6},
{"d":"2026-05-08","o":14.6,"h":16.6,"l":14.3,"c":16.3},
{"d":"2026-05-09","o":16.3,"h":17,"l":14.7,"c":16.9},
{"d":"2026-05-10","o":16.9,"h":17.3,"l":14.7,"c":14.906},
{"d":"2026-05-11","o":14.906,"h":18.403,"l":14.893,"c":17.558}
]},
"resolve":{"axis":{"x":"independent","y":"independent"}},
"layer":[
{"mark":{"type":"rule","strokeWidth":1,"opacity":0.9},
"encoding":{
"x":{"field":"d","type":"temporal","title":null,"scale":{"type":"utc","domain":["2024-09-18","2027-04-11T12:00:00Z"],"nice":false},
"axis":{"orient":"bottom","offset":-26,"zindex":1,"values":[{"year":2025,"month":3,"date":1,"utc":true},{"year":2025,"month":5,"date":1,"utc":true},{"year":2025,"month":7,"date":1,"utc":true},{"year":2025,"month":9,"date":1,"utc":true},{"year":2025,"month":11,"date":1,"utc":true},{"year":2026,"month":1,"date":1,"utc":true},{"year":2026,"month":3,"date":1,"utc":true},{"year":2026,"month":5,"date":1,"utc":true},{"year":2026,"month":7,"date":1,"utc":true},{"year":2026,"month":9,"date":1,"utc":true},{"year":2026,"month":11,"date":1,"utc":true},{"year":2027,"month":1,"date":1,"utc":true}],"labelExpr":"utcmonth(datum.value)==0?utcFormat(datum.value,'%Y'):utcFormat(datum.value,'%b')","labelFontWeight":{"condition":{"test":"utcmonth(datum.value)==0","value":"bold"},"value":"normal"},"labelColor":"#2d8ad6","labelFontSize":12,"labelPadding":0,"labelFlush":false,"tickOpacity":0,"domain":false,"grid":false}},
"y":{"field":"h","type":"quantitative","title":null,"scale":{"type":"log","domain":[0.01029,350.4],"nice":false,"zero":false},
"axis":{"orient":"right","offset":-71,"zindex":1,"values":[140,90,58,38,24,9,5.5,3.5,2.1,1.3,0.8,0.5,0.3,0.18,0.11,0.07,0.045,0.029,0.019],"format":".3f","labelColor":"#2d7fc9","labelFontSize":12,"labelPadding":0,"tickOpacity":0,"domain":false,"grid":false}},
"y2":{"field":"l"},
"color":{"condition":{"test":"datum.c>=datum.o","value":"#26a69a"},"value":"#ef5350"}}},
{"mark":{"type":"rule","strokeWidth":1.5,"opacity":0.85},
"encoding":{
"x":{"field":"d","type":"temporal","axis":null},
"y":{"field":"o","type":"quantitative","axis":null},
"y2":{"field":"c"},
"color":{"condition":{"test":"datum.c>=datum.o","value":"#26a69a"},"value":"#ef5350"}}}
]},
{"data":{"values":[{}]},
"resolve":{"axis":{"x":"independent","y":"independent"}},
"layer":[
{"mark":{"type":"rule","color":"#26a69a","strokeWidth":1,"strokeDash":[1,2],"opacity":0.75},
"encoding":{"x":{"datum":{"year":2024,"month":9,"date":18,"utc":true},"type":"temporal","axis":null},"x2":{"datum":{"year":2027,"month":2,"date":15,"utc":true}},"y":{"datum":17.558,"type":"quantitative","axis":null}}},
{"mark":{"type":"text","text":"220.000","color":"#2d7fc9","fontSize":12,"align":"left","baseline":"middle"},
"encoding":{"x":{"datum":{"year":2027,"month":2,"date":22,"utc":true},"type":"temporal","axis":null},"y":{"datum":220,"type":"quantitative","axis":null}}},
{"mark":{"type":"rect","color":"#131722"},
"encoding":{"x":{"datum":{"year":2027,"month":2,"date":18,"hours":10,"utc":true},"type":"temporal","axis":null},"x2":{"datum":{"year":2027,"month":4,"date":7,"hours":20,"utc":true}},"y":{"datum":236.8,"type":"quantitative","axis":null},"y2":{"datum":225.6}}},
{"mark":{"type":"rect","color":"#0f0f10","stroke":"#2a2e39","strokeWidth":1,"cornerRadius":4},
"encoding":{"x":{"datum":{"year":2027,"month":2,"date":18,"hours":10,"utc":true},"type":"temporal","axis":null},"x2":{"datum":{"year":2027,"month":4,"date":7,"hours":20,"utc":true}},"y":{"datum":333.7,"type":"quantitative","axis":null},"y2":{"datum":236.8}}},
{"mark":{"type":"text","text":"USD","color":"#d1d4dc","fontSize":12,"align":"left","baseline":"middle"},
"encoding":{"x":{"datum":{"year":2027,"month":2,"date":25,"utc":true},"type":"temporal","axis":null},"y":{"datum":281,"type":"quantitative","axis":null}}},
{"mark":{"type":"rect","color":"#26a69a"},
"encoding":{"x":{"datum":{"year":2027,"month":2,"date":15,"hours":10,"utc":true},"type":"temporal","axis":null},"x2":{"datum":{"year":2027,"month":4,"date":8,"hours":12,"utc":true}},"y":{"datum":19.6,"type":"quantitative","axis":null},"y2":{"datum":12.77}}},
{"mark":{"type":"text","text":"17.558","color":"#ffffff","fontSize":11.5,"fontWeight":"bold","align":"left","baseline":"middle"},
"encoding":{"x":{"datum":{"year":2027,"month":2,"date":23,"utc":true},"type":"temporal","axis":null},"y":{"datum":17.3,"type":"quantitative","axis":null}}},
{"mark":{"type":"text","text":"03:35:24","color":"#c9ece8","fontSize":12,"align":"left","baseline":"middle"},
"encoding":{"x":{"datum":{"year":2027,"month":2,"date":23,"utc":true},"type":"temporal","axis":null},"y":{"datum":14.15,"type":"quantitative","axis":null}}},
{"mark":{"type":"text","text":"VVV","color":"#f7d91c","stroke":"#f7d91c","strokeWidth":1.5,"fontSize":43,"font":"Liberation Sans","fontWeight":"bold","align":"center","baseline":"middle"},
"encoding":{"x":{"datum":{"year":2026,"month":10,"date":12,"utc":true},"type":"temporal","axis":null},"y":{"datum":27.7,"type":"quantitative","axis":null}}},
{"encoding":{"y":{"datum":282,"type":"quantitative","axis":null}},
"resolve":{"axis":{"x":"independent","y":"independent"}},
"layer":[
{"mark":{"type":"text","text":"Venice Token · 1D · CRYPTO","color":"#2d8ad6","fontSize":12.4,"align":"left","baseline":"middle"},"encoding":{"x":{"datum":{"year":2024,"month":9,"date":25,"utc":true},"type":"temporal","axis":null}}},
{"mark":{"type":"text","text":"O","color":"#2d8ad6","fontSize":12.4,"align":"left","baseline":"middle"},"encoding":{"x":{"datum":{"year":2025,"month":2,"date":4,"utc":true},"type":"temporal","axis":null}}},
{"mark":{"type":"text","text":"14.906","color":"#2ba598","fontSize":12.2,"align":"left","baseline":"middle"},"encoding":{"x":{"datum":{"year":2025,"month":2,"date":11,"utc":true},"type":"temporal","axis":null}}},
{"mark":{"type":"text","text":"H","color":"#2d8ad6","fontSize":12.4,"align":"left","baseline":"middle"},"encoding":{"x":{"datum":{"year":2025,"month":3,"date":20,"utc":true},"type":"temporal","axis":null}}},
{"mark":{"type":"text","text":"18.403","color":"#2ba598","fontSize":12.2,"align":"left","baseline":"middle"},"encoding":{"x":{"datum":{"year":2025,"month":3,"date":27,"utc":true},"type":"temporal","axis":null}}},
{"mark":{"type":"text","text":"L","color":"#2d8ad6","fontSize":12.4,"align":"left","baseline":"middle"},"encoding":{"x":{"datum":{"year":2025,"month":5,"date":2,"hours":12,"utc":true},"type":"temporal","axis":null}}},
{"mark":{"type":"text","text":"14.893","color":"#2ba598","fontSize":12.2,"align":"left","baseline":"middle"},"encoding":{"x":{"datum":{"year":2025,"month":5,"date":9,"utc":true},"type":"temporal","axis":null}}},
{"mark":{"type":"text","text":"C","color":"#2d8ad6","fontSize":12.4,"align":"left","baseline":"middle"},"encoding":{"x":{"datum":{"year":2025,"month":6,"date":14,"utc":true},"type":"temporal","axis":null}}},
{"mark":{"type":"text","text":"17.558","color":"#2ba598","fontSize":12.2,"align":"left","baseline":"middle"},"encoding":{"x":{"datum":{"year":2025,"month":6,"date":20,"utc":true},"type":"temporal","axis":null}}},
{"mark":{"type":"text","text":"+2.652 (+17.79%)","color":"#2ba598","fontSize":11,"align":"left","baseline":"middle"},"encoding":{"x":{"datum":{"year":2025,"month":7,"date":27,"utc":true},"type":"temporal","axis":null}}}
]},
{"mark":{"type":"text","text":"TradingView","color":"#131722","fontSize":22.9,"font":"Inter","fontWeight":600,"align":"left","baseline":"middle"},
"encoding":{"x":{"datum":{"year":2024,"month":10,"date":21,"utc":true},"type":"temporal","axis":null},"y":{"datum":0.0067,"type":"quantitative","axis":null}}},
{"mark":{"type":"point","filled":true,"opacity":1,"color":"#131722","size":1156,"shape":"M-1,-.49H-.06V.48H-.65V-.165H-1Z M.44,-.49H1L.47,.48H-.03Z M0,-.34a.18,.18 0 1,0 .36,0a.18,.18 0 1,0 -.36,0Z"},
"encoding":{"x":{"datum":{"year":2024,"month":10,"date":2,"utc":true},"type":"temporal","axis":null},"y":{"datum":0.00677,"type":"quantitative","axis":null}}},
{"mark":{"type":"point","filled":false,"opacity":1,"color":"#e8e8e8","strokeWidth":1.5,"size":961,"shape":"M-1,.74Q-.6,-.17 .1,-.17L.3,-.17L.43,-.78Q.72,-1.1 1,-.74L1,.3Q.95,.55 .72,.57L.72,.96L.35,.96L.26,.57L-.13,.57L-.17,.87L-.52,.87L-.57,.74Z"},
"encoding":{"x":{"datum":{"year":2025,"month":1,"date":2,"utc":true},"type":"temporal","axis":null},"y":{"datum":0.01973,"type":"quantitative","axis":null}}},
{"mark":{"type":"point","shape":"circle","filled":false,"opacity":1,"color":"#9c4bc0","strokeWidth":2,"size":484},
"encoding":{"x":{"datum":{"year":2026,"month":5,"date":11,"hours":10,"utc":true},"type":"temporal","axis":null},"y":{"datum":0.02613,"type":"quantitative","axis":null}}},
{"mark":{"type":"point","filled":true,"opacity":1,"color":"#9c4bc0","size":144,"shape":"M.3,-1L-.6,.15H-.05L-.35,1L.65,-.2H.05L.5,-1Z"},
"encoding":{"x":{"datum":{"year":2026,"month":5,"date":11,"hours":10,"utc":true},"type":"temporal","axis":null},"y":{"datum":0.02613,"type":"quantitative","axis":null}}},
{"mark":{"type":"point","shape":"circle","filled":true,"opacity":1,"color":"#e8333a","size":800},
"encoding":{"x":{"datum":{"year":2026,"month":5,"date":12,"hours":20,"utc":true},"type":"temporal","axis":null},"y":{"datum":0.01832,"type":"quantitative","axis":null}}},
{"mark":{"type":"point","shape":"circle","filled":true,"opacity":1,"color":"#f4f4f6","stroke":"#1b1b1f","strokeWidth":1.5,"size":420},
"encoding":{"x":{"datum":{"year":2026,"month":5,"date":11,"hours":10,"utc":true},"type":"temporal","axis":null},"y":{"datum":0.01832,"type":"quantitative","axis":null}}},
{"mark":{"type":"point","filled":true,"opacity":1,"color":"#3b78d8","size":380,"shape":"M-1,0A1,1 0 0 1 0,-1V0Z"},
"encoding":{"x":{"datum":{"year":2026,"month":5,"date":11,"hours":10,"utc":true},"type":"temporal","axis":null},"y":{"datum":0.01832,"type":"quantitative","axis":null}}},
{"mark":{"type":"point","filled":true,"opacity":1,"color":"#e8333a","size":380,"shape":"M0,-.95H.6V-.7H0Z M0,-.4H.95V-.15H0Z M-1,.1H1V.35H-1Z M-.8,.6H.8V.8H-.8Z"},
"encoding":{"x":{"datum":{"year":2026,"month":5,"date":11,"hours":10,"utc":true},"type":"temporal","axis":null},"y":{"datum":0.01832,"type":"quantitative","axis":null}}}
]}
]
}
